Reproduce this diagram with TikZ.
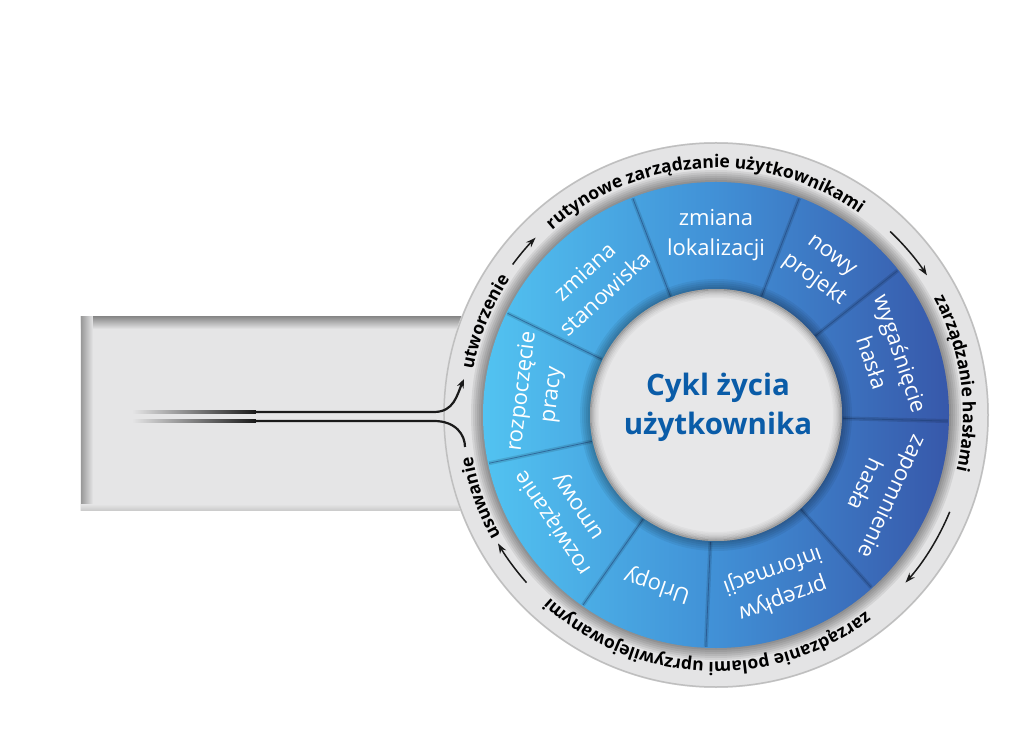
\documentclass[tikz,border=0pt]{standalone}
\usepackage{fontspec}
\setmainfont{Open Sans}
\usetikzlibrary{positioning,arrows.meta,decorations.text}
\definecolor{ink}{HTML}{1A1A1A}
\definecolor{ringgray}{HTML}{E4E4E5}
\definecolor{coregray}{HTML}{E7E7E8}
\definecolor{boxgray}{HTML}{E5E5E6}
\definecolor{titleblue}{HTML}{0A5CA8}
\definecolor{skyblue}{HTML}{52C3F1}
\definecolor{midblue}{HTML}{4190D6}
\definecolor{deepblue}{HTML}{3758AA}
\definecolor{seam}{HTML}{1E3F75}
\newcommand{\ringfont}{\fontsize{17.5}{17.5}\selectfont\bfseries}

\begin{document}
\begin{tikzpicture}[x=1pt,y=1pt,
  segtext/.style={text=white,align=center,font=\fontsize{22}{30}\selectfont},
  ringtext/.style={decorate,decoration={text along path,text align=center,text={|\ringfont|#1}}},
  ringarrow/.style={ink,line width=1.5pt,-{Stealth[length=10pt,width=7pt]}},
  flowline/.style={ink,line width=2.2pt}]
  \useasboundingbox (-716,-339) rectangle (308,415);
  % left panel with inset shadow
  \fill[boxgray] (-635,-95) rectangle (-240,98);
  \shade[top color=black!45,bottom color=boxgray] (-635,86) rectangle (-240,98);
  \shade[left color=black!40,right color=boxgray] (-635,-95) rectangle (-623,98);
  \shade[bottom color=black!20,top color=boxgray] (-635,-95) rectangle (-240,-89);
  % outer gray ring
  \fill[ringgray] (0,0) circle (273);
  \draw[black!25,line width=1.5pt] (0,0) circle (272);
  \foreach \k in {12,10,...,0}
    \fill[black,opacity=0.07] (0,0) circle (233+\k);
  % blue wheel
  \shade[left color=skyblue,right color=deepblue,middle color=midblue,even odd rule]
    (0,0) circle (233) (0,0) circle (126);
  \foreach \b in {154,111,69,38.5,-1.5,-48,-92.5,-125,-168} {
    \draw[black,opacity=.12,line width=4pt] (\b:127) -- (\b:232);
    \draw[seam,opacity=.55,line width=.8pt] (\b:127) -- (\b:232);
  }
  % core
  \foreach \k in {10,8,...,0}
    \fill[black,opacity=0.06] (0,0) circle (126+\k);
  \fill[coregray] (0,0) circle (126);
  \foreach \k/\o in {0/.30,1/.22,2/.15,3/.10,4/.06,5/.03}
    \draw[black,opacity=\o,line width=1.5pt] (0,0) circle (125.25-\k*1.5);
  \node[font=\fontsize{29.5}{39}\selectfont\bfseries,text=titleblue,align=center] (title) at (2,8)
    {Cykl życia\\użytkownika};
  % segment labels
  \foreach \i/\ang/\lab in {
    1/173/{rozpoczęcie\\pracy},
    2/132.5/{zmiana\\stanowiska},
    3/90/{zmiana\\lokalizacji},
    4/54/{nowy\\projekt},
    5/18.5/{wygaśnięcie\\hasła},
    6/-25/{zapomnienie\\hasła},
    7/-70/{przepływ\\informacji},
    8/-109/{Urlopy},
    9/-146.5/{rozwiązanie\\umowy}}
  {
    \node[segtext,rotate=\ang-90] (seg\i) at (\ang:180) {\lab};
  }
  % captions on the ring
  \path[ringtext={utworzenie}] (188:247) arc[start angle=188,end angle=128,radius=247];
  \path[ringtext={rutynowe zarządzanie użytkownikami}] (153:247) arc[start angle=153,end angle=33,radius=247];
  \path[ringtext={zarządzanie hasłami}] (37.5:247) arc[start angle=37.5,end angle=-22.5,radius=247];
  \path[ringtext={zarządzanie polami uprzywilejowanymi}] (-32.5:247) arc[start angle=-32.5,end angle=-152.5,radius=247];
  \path[ringtext={usuwanie}] (-130.5:247) arc[start angle=-130.5,end angle=-190.5,radius=247];
  \foreach \a/\b in {143.5/135.5,46.5/33.5,-22.5/-41.5,-138.5/-149.5}
    \draw[ringarrow] (\a:253) arc[start angle=\a,end angle=\b,radius=253];
  % flows in and out
  \coordinate (inA) at (-584,3);
  \coordinate (inB) at (-584,-6);
  \coordinate (fadeA) at (-460,3);
  \coordinate (fadeB) at (-460,-6);
  \coordinate (bendA) at (-282,3);
  \coordinate (bendB) at (-282,-6);
  \coordinate (utw) at (-252,36);
  \coordinate (usu) at (-251,-32);
  \shade[left color=boxgray,right color=ink] ([yshift=-1.1pt]inA) rectangle ([yshift=1.1pt]fadeA);
  \shade[left color=boxgray,right color=ink] ([yshift=-1.1pt]inB) rectangle ([yshift=1.1pt]fadeB);
  \draw[flowline,-{Stealth[length=9pt,width=7pt]}] (fadeA) -- (bendA) .. controls +(20,0) and +(-7,-16) .. (utw);
  \draw[flowline] (fadeB) -- (bendB) .. controls +(22,0) and +(0,12) .. (usu);
\end{tikzpicture}
\end{document}
